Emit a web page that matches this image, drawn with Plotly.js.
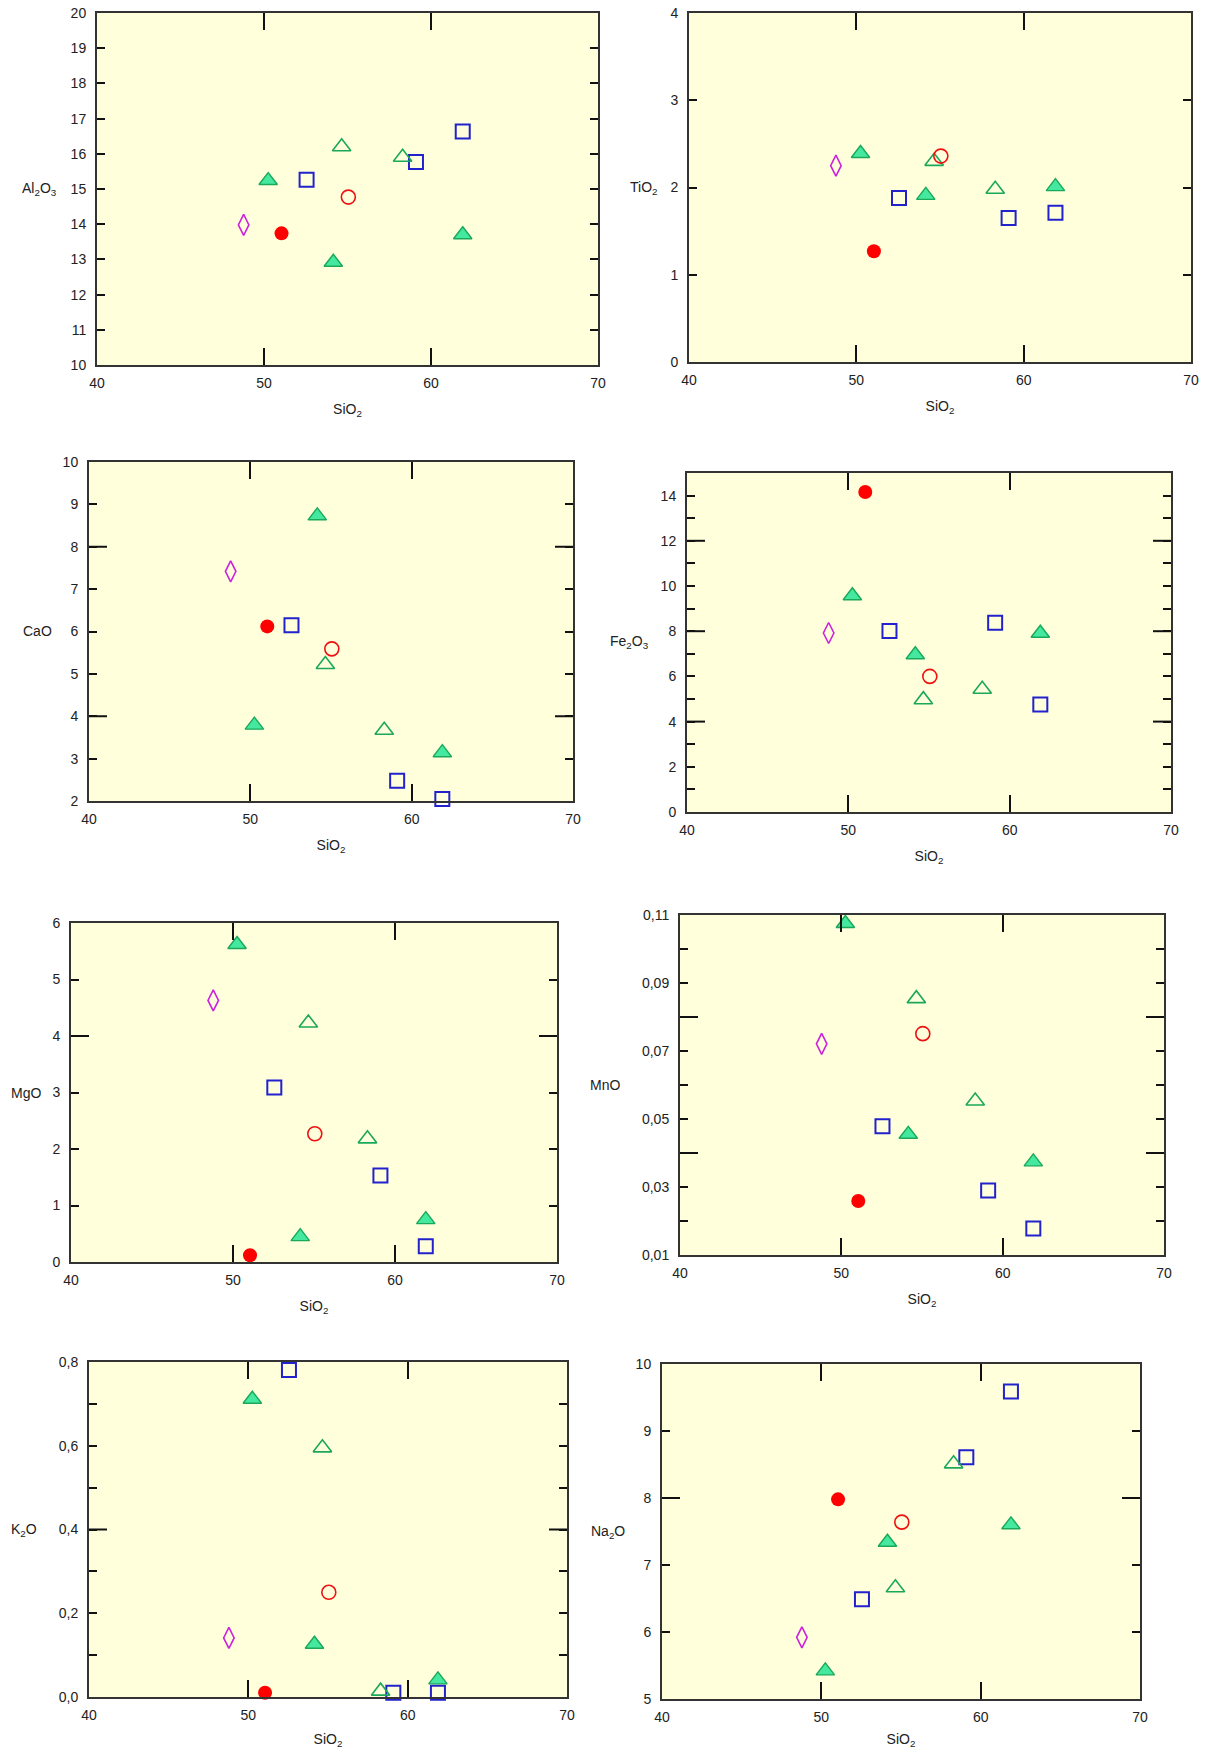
<!DOCTYPE html>
<html><head><meta charset="utf-8">
<script src="https://cdn.plot.ly/plotly-3.0.1.min.js"></script>
<style>html,body{margin:0;padding:0;background:#fff}#chart{width:1209px;height:1749px}</style>
</head><body><div id="chart"></div>
<script>
// ---- DATA ----
// SiO2 (x value) of each sample group
const sio2FilledCircle = [51.05];
const sio2OpenCircle   = [55.05];
const sio2Diamond      = [48.78];
const sio2FilledTri    = [50.25, 54.15, 61.9];
const sio2OpenTri      = [54.65, 58.3];
const sio2Square       = [52.55, 59.1, 61.9];

// oxide panels, in drawing order
const oxideLabels = ['Al<sub>2</sub>O<sub>3</sub>', 'TiO<sub>2</sub>', 'CaO', 'Fe<sub>2</sub>O<sub>3</sub>',
                     'MgO', 'MnO', 'K<sub>2</sub>O', 'Na<sub>2</sub>O'];
const xTitle = 'SiO<sub>2</sub>';

// y values per panel (Al2O3, TiO2, CaO, Fe2O3, MgO, MnO, K2O, Na2O)
const filledCircleVals = [13.74, 1.27, 6.12, 14.16, 0.12, 0.0259, 0.010, 7.98];
const openCircleVals   = [14.77, 2.36, 5.59, 6.00, 2.27, 0.0751, 0.250, 7.64];
const diamondVals      = [13.98, 2.25, 7.42, 7.92, 4.63, 0.0721, 0.141, 5.92];
const filledTriVals = [
  [15.24, 12.92, 13.70],
  [2.39, 1.91, 2.01],
  [3.79, 8.73, 3.14],
  [9.57, 6.96, 7.91],
  [5.62, 0.45, 0.75],
  [0.1075, 0.0455, 0.0374],
  [0.711, 0.126, 0.041],
  [5.42, 7.34, 7.60]
];
const openTriVals = [
  [16.20, 15.90],
  [2.30, 1.98],
  [5.22, 3.67],
  [4.97, 5.43],
  [4.23, 2.18],
  [0.0854, 0.0553],
  [0.595, 0.014],
  [6.66, 8.51]
];
const squareVals = [
  [15.26, 15.77, 16.63],
  [1.88, 1.65, 1.71],
  [6.15, 2.48, 2.05],
  [8.01, 8.37, 4.76],
  [3.09, 1.53, 0.28],
  [0.0479, 0.0290, 0.0178],
  [0.781, 0.010, 0.010],
  [6.49, 8.61, 9.59]
];

// axes
const xRange = [40, 70];
const xTickVals = [40, 50, 60, 70];
const yRanges = [[10, 20], [0, 4], [2, 10], [0, 15], [0, 6], [0.01, 0.11], [0, 0.8], [5, 10]];
const yTickVals = [
  [10, 11, 12, 13, 14, 15, 16, 17, 18, 19, 20],
  [0, 1, 2, 3, 4],
  [2, 3, 4, 5, 6, 7, 8, 9, 10],
  [0, 2, 4, 6, 8, 10, 12, 14],
  [0, 1, 2, 3, 4, 5, 6],
  [0.01, 0.03, 0.05, 0.07, 0.09, 0.11],
  [0, 0.2, 0.4, 0.6, 0.8],
  [5, 6, 7, 8, 9, 10]
];
const yTickText = [
  ['10', '11', '12', '13', '14', '15', '16', '17', '18', '19', '20'],
  ['0', '1', '2', '3', '4'],
  ['2', '3', '4', '5', '6', '7', '8', '9', '10'],
  ['0', '2', '4', '6', '8', '10', '12', '14'],
  ['0', '1', '2', '3', '4', '5', '6'],
  ['0,01', '0,03', '0,05', '0,07', '0,09', '0,11'],
  ['0,0', '0,2', '0,4', '0,6', '0,8'],
  ['5', '6', '7', '8', '9', '10']
];
const yMinorTicks = [[], [], [], [1, 3, 5, 7, 9, 11, 13], [], [0.02, 0.04, 0.06, 0.08, 0.10], [0.1, 0.3, 0.5, 0.7], []];
const yLongTicks  = [[], [], [4, 8], [4, 8, 12], [4], [0.04, 0.08], [0.4], [8]];

// ---- LAYOUT (pixel boxes: left, right, top, bottom) ----
const W = 1209, H = 1749;
const boxes = [
  [97, 598, 13, 365],
  [689, 1191, 13, 362],
  [89, 573, 462, 801],
  [687, 1171, 473, 812],
  [71, 557, 923, 1262],
  [680, 1164, 915, 1255],
  [89, 567, 1362, 1697],
  [662, 1140, 1364, 1699]
];
const yTitleGap = [38, 29, 35, 36, 28, 58, 50, 35];

const FONT = 'Liberation Sans, Arial, sans-serif';
const frameColor = '#333333';
const tickColor = '#111111';
const greenFill = '#44E89E';
const greenLine = '#1BA85A';

const traces = [];
const layout = {
  width: W, height: H,
  margin: {l: 0, r: 0, t: 0, b: 0},
  paper_bgcolor: '#ffffff',
  plot_bgcolor: '#FFFFDC',
  font: {family: FONT, size: 14, color: '#222'},
  showlegend: false,
  shapes: [],
  annotations: []
};

boxes.forEach((b, i) => {
  const s = i === 0 ? '' : String(i + 1);
  const xa = 'x' + s, ya = 'y' + s;
  const common = {xaxis: xa, yaxis: ya, type: 'scatter', mode: 'markers', cliponaxis: false, hoverinfo: 'x+y'};
  traces.push(Object.assign({}, common, {
    x: sio2Square, y: squareVals[i],
    marker: {symbol: 'square-open', size: 14, color: '#2222CC', line: {width: 2}}
  }));
  traces.push(Object.assign({}, common, {
    x: sio2OpenTri, y: openTriVals[i],
    marker: {symbol: 'triangle-up-open', size: 16, color: greenLine, line: {width: 1.6}}
  }));
  traces.push(Object.assign({}, common, {
    x: sio2FilledTri, y: filledTriVals[i],
    marker: {symbol: 'triangle-up', size: 16, color: greenFill, line: {color: greenLine, width: 1.4}}
  }));
  traces.push(Object.assign({}, common, {
    x: sio2Diamond, y: [diamondVals[i]],
    marker: {symbol: 'diamond-tall-open', size: 15, color: '#CC22DD', line: {width: 1.6}}
  }));
  traces.push(Object.assign({}, common, {
    x: sio2OpenCircle, y: [openCircleVals[i]],
    marker: {symbol: 'circle-open', size: 14, color: '#EE1111', line: {width: 1.6}}
  }));
  traces.push(Object.assign({}, common, {
    x: sio2FilledCircle, y: [filledCircleVals[i]],
    marker: {symbol: 'circle', size: 14, color: '#FF0000', line: {width: 0}}
  }));

  layout['xaxis' + s] = {
    domain: [b[0] / W, b[1] / W], anchor: ya, range: xRange,
    tickmode: 'array', tickvals: xTickVals, ticktext: xTickVals.map(String),
    ticks: 'inside', ticklen: 17, tickwidth: 2, tickcolor: tickColor,
    showline: true, linecolor: frameColor, linewidth: 2, mirror: 'ticks',
    showgrid: false, zeroline: false, fixedrange: true,
    tickfont: {family: FONT, size: 14, color: '#222'},
    ticklabelstandoff: 4,
    title: {text: xTitle, font: {family: FONT, size: 14, color: '#222'}, standoff: 14}
  };
  layout['yaxis' + s] = {
    domain: [1 - b[3] / H, 1 - b[2] / H], anchor: xa, range: yRanges[i],
    tickmode: 'array', tickvals: yTickVals[i], ticktext: yTickText[i],
    ticks: 'inside', ticklen: 8, tickwidth: 2, tickcolor: tickColor,
    minor: {tickmode: 'array', tickvals: yMinorTicks[i], ticks: 'inside', ticklen: 8, tickwidth: 2, tickcolor: tickColor, showgrid: false},
    showline: true, linecolor: frameColor, linewidth: 2, mirror: 'ticks',
    showgrid: false, zeroline: false, fixedrange: true,
    tickfont: {family: FONT, size: 14, color: '#222'},
    ticklabelstandoff: 6
  };
  // long inside ticks on both sides
  yLongTicks[i].forEach(v => {
    layout.shapes.push({type: 'line', xref: xa, yref: ya, xsizemode: 'pixel', xanchor: xRange[0],
      x0: 0, x1: 18, y0: v, y1: v, line: {color: tickColor, width: 2}});
    layout.shapes.push({type: 'line', xref: xa, yref: ya, xsizemode: 'pixel', xanchor: xRange[1],
      x0: -18, x1: 0, y0: v, y1: v, line: {color: tickColor, width: 2}});
  });
  layout.annotations.push({
    text: oxideLabels[i], showarrow: false,
    xref: xa + ' domain', yref: ya + ' domain', x: 0, y: 0.5,
    xanchor: 'right', yanchor: 'middle', xshift: -yTitleGap[i],
    font: {family: FONT, size: 14, color: '#222'}
  });
});

Plotly.newPlot('chart', traces, layout, {staticPlot: true, displayModeBar: false});
</script>
</body></html>
